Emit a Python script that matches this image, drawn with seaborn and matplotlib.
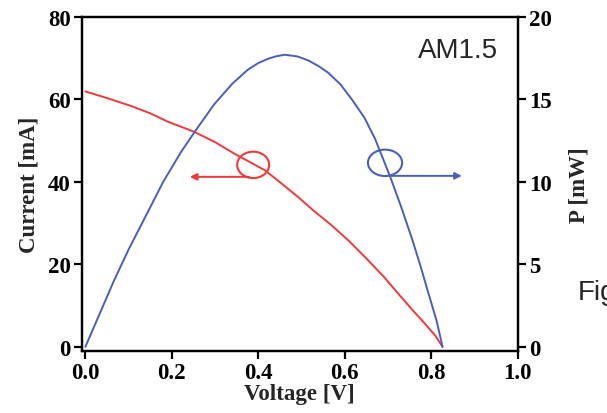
import matplotlib
matplotlib.use("Agg")
import matplotlib.pyplot as plt
from matplotlib.patches import Ellipse
import seaborn as sns
import pandas as pd

# I-V curve (red, left axis)
voltage_iv = [0.0, 0.05, 0.105, 0.15, 0.19, 0.252, 0.30, 0.345, 0.415, 0.45,
              0.492, 0.53, 0.57, 0.61, 0.648, 0.69, 0.725, 0.76, 0.787, 0.81, 0.826]
current_ma = [61.9, 60.3, 58.4, 56.6, 54.6, 52.1, 49.6, 46.8, 42.8, 39.9,
              36.3, 32.8, 29.4, 25.6, 21.6, 17.0, 12.7, 8.5, 5.4, 2.6, 0.0]

# P-V curve (blue, right axis)
voltage_pv = [0.0, 0.033, 0.066, 0.10, 0.143, 0.18, 0.221, 0.252, 0.298, 0.34,
              0.376, 0.40, 0.422, 0.44, 0.461, 0.49, 0.516, 0.54, 0.562, 0.59,
              0.616, 0.645, 0.67, 0.705, 0.73, 0.756, 0.775, 0.795, 0.812, 0.826]
power_mw = [0.0, 2.0, 4.0, 5.9, 8.1, 10.0, 11.8, 13.0, 14.7, 15.95,
            16.8, 17.2, 17.45, 17.6, 17.7, 17.6, 17.35, 17.0, 16.6, 15.9,
            15.0, 13.9, 12.6, 10.3, 8.5, 6.5, 4.9, 3.1, 1.6, 0.0]

x_ticks = [0.0, 0.2, 0.4, 0.6, 0.8, 1.0]
left_ticks = [0, 20, 40, 60, 80]
right_ticks = [0, 5, 10, 15, 20]

RED = "#ee3a3a"
BLUE = "#4a5fb8"

sns.set_style("ticks")
plt.rcParams["font.family"] = ["Liberation Serif", "DejaVu Serif"]

fig = plt.figure(figsize=(6.07, 4.14), dpi=100)
ax1 = fig.add_axes([0.135, 0.150, 0.718, 0.807])
ax2 = ax1.twinx()

df_iv = pd.DataFrame({"V": voltage_iv, "I": current_ma})
df_pv = pd.DataFrame({"V": voltage_pv, "P": power_mw})

sns.lineplot(data=df_iv, x="V", y="I", ax=ax1, color=RED, lw=1.4)
sns.lineplot(data=df_pv, x="V", y="P", ax=ax2, color=BLUE, lw=1.4)

ax1.set_xlim(-0.008, 1.0)
ax1.set_ylim(-1.0, 80)
ax2.set_ylim(-0.25, 20)

ax1.set_xticks(x_ticks)
ax1.set_xticklabels([f"{t:.1f}" for t in x_ticks])
ax1.set_yticks(left_ticks)
ax2.set_yticks(right_ticks)

FS = 16.5
for ax in (ax1, ax2):
    for s in ax.spines.values():
        s.set_linewidth(1.6)
        s.set_color("black")
    ax.tick_params(width=1.6, length=6, direction="out", labelsize=FS, colors="black", pad=2)
    for lab in ax.get_xticklabels() + ax.get_yticklabels():
        lab.set_fontweight("bold")

ax1.set_xlabel("Voltage [V]", fontsize=FS, fontweight="bold", labelpad=0)
ax1.set_ylabel("Current [mA]", fontsize=FS, fontweight="bold", labelpad=6)
ax2.set_ylabel("P [mW]", fontsize=FS, fontweight="bold", labelpad=12)

# Annotations: ellipses and arrows
ax1.add_patch(Ellipse((0.388, 44.1), 0.074, 6.4, fill=False, ec=RED, lw=1.5))
ax1.annotate("", xy=(0.235, 41.2), xytext=(0.385, 41.2),
             arrowprops=dict(arrowstyle="-|>", color=RED, lw=1.4, mutation_scale=10))
ax2.add_patch(Ellipse((0.693, 11.15), 0.079, 1.6, fill=False, ec=BLUE, lw=1.5))
ax2.annotate("", xy=(0.877, 10.36), xytext=(0.70, 10.36),
             arrowprops=dict(arrowstyle="-|>", color=BLUE, lw=1.4, mutation_scale=10))

ax1.text(0.955, 0.94, "AM1.5", transform=ax1.transAxes, ha="right", va="top",
         fontsize=20, family=["Liberation Sans", "DejaVu Sans"])
fig.text(0.951, 0.292, "Fig", ha="left", va="center", fontsize=20,
         family=["Liberation Sans", "DejaVu Sans"])

fig.savefig("out.png", dpi=100)
